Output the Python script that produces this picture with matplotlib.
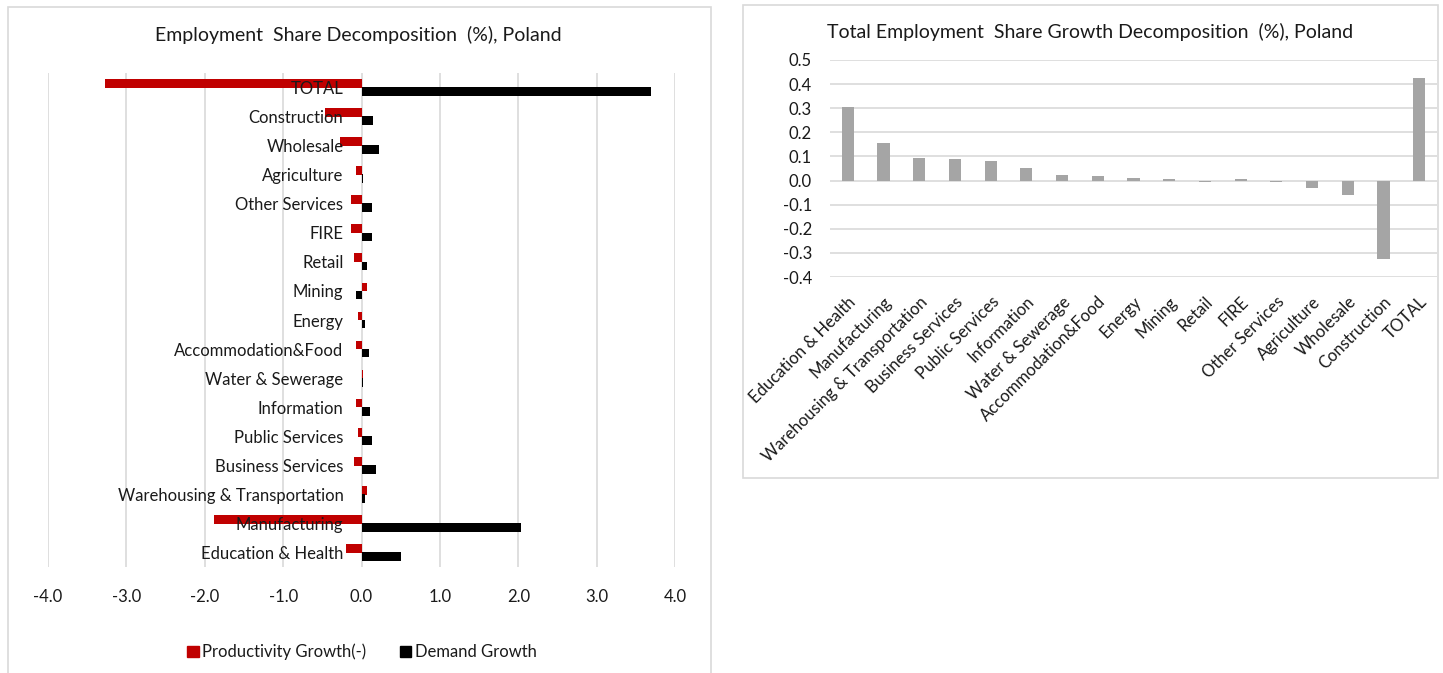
import matplotlib
matplotlib.use("Agg")
import matplotlib.pyplot as plt
import matplotlib.patches as mpatches
import numpy as np

plt.rcParams['font.family'] = ['Lato', 'DejaVu Sans']

# Sector order (bottom-to-top on the bar chart, left-to-right on the column chart)
sectors = [
    "Education & Health", "Manufacturing", "Warehousing & Transportation",
    "Business Services", "Public Services", "Information", "Water & Sewerage",
    "Accommodation&Food", "Energy", "Mining", "Retail", "FIRE",
    "Other Services", "Agriculture", "Wholesale", "Construction", "TOTAL",
]

# Employment share decomposition (%)
productivity_growth = [-0.20, -1.88, 0.07, -0.09, -0.05, -0.07, 0.02, -0.07, -0.05,
                       0.07, -0.09, -0.13, -0.13, -0.07, -0.28, -0.46, -3.27]
demand_growth = [0.50, 2.03, 0.04, 0.19, 0.13, 0.11, 0.02, 0.09, 0.045,
                 -0.07, 0.07, 0.13, 0.13, 0.025, 0.22, 0.15, 3.69]

# Total employment share growth (%)
share_growth = [0.303, 0.155, 0.094, 0.088, 0.082, 0.051, 0.025, 0.019, 0.012,
                0.008, -0.008, 0.008, -0.008, -0.029, -0.058, -0.325, 0.425]

left_ticks = [-4.0, -3.0, -2.0, -1.0, 0.0, 1.0, 2.0, 3.0, 4.0]
right_ticks = [-0.4, -0.3, -0.2, -0.1, 0.0, 0.1, 0.2, 0.3, 0.4, 0.5]

RED = "#C00000"
BLACK = "#000000"
GREY = "#A5A5A5"
GRID = "#D9D9D9"
TEXT = "#1a1a1a"
FS = 12

W, H = 1443, 673
fig = plt.figure(figsize=(W / 100, H / 100), dpi=100)


def px_box(x0, y0, x1, y1):
    # pixel box (top-left origin) -> figure fraction rect
    return [x0 / W, 1 - y1 / H, (x1 - x0) / W, (y1 - y0) / H]


# panel frames
for (x0, y0, x1, y1) in [(8, 7, 711, 680), (743, 5, 1438, 478)]:
    l, b, w, h = px_box(x0, y0, x1, y1)
    fig.patches.append(mpatches.Rectangle((l, b), w, h, transform=fig.transFigure,
                                          fill=False, edgecolor=GRID, linewidth=1.2))

# ---- left: horizontal bar chart ----
ax1 = fig.add_axes(px_box(48, 73, 675, 567))
y = np.arange(len(sectors))
bh = 0.3
ax1.barh(y + 0.14, productivity_growth, height=bh, color=RED, zorder=1,
         label="Productivity Growth(-)")
ax1.barh(y - 0.14, demand_growth, height=bh, color=BLACK, zorder=1,
         label="Demand Growth")
for t in left_ticks:
    ax1.axvline(t, color=GRID, linewidth=1.2, zorder=0)
ax1.set_xlim(-4, 4)
ax1.set_ylim(-0.5, len(sectors) - 0.5)
ax1.set_xticks(left_ticks)
ax1.set_xticklabels([f"{t:.1f}" for t in left_ticks])
ax1.set_yticks(y)
ax1.set_yticklabels(sectors)
ax1.set_axisbelow(False)
for s in ["top", "right", "bottom"]:
    ax1.spines[s].set_visible(False)
ax1.spines["left"].set_position(("data", 0))
ax1.spines["left"].set_visible(False)
ax1.tick_params(axis="y", length=0, pad=13, labelsize=FS, labelcolor=TEXT)
ax1.tick_params(axis="x", length=0, pad=16, labelsize=FS, labelcolor=TEXT)

fig.text(358 / W, 1 - 35 / H, "Employment  Share Decomposition  (%), Poland",
         ha="center", va="center", fontsize=14, color=TEXT)

handles = [mpatches.Patch(color=RED, label="Productivity Growth(-)"),
           mpatches.Patch(color=BLACK, label="Demand Growth")]
fig.legend(handles=handles, loc="center", bbox_to_anchor=(362 / W, 1 - 652 / H),
           ncol=2, frameon=False, fontsize=FS, handlelength=0.7, handleheight=0.7,
           handletextpad=0.2, columnspacing=2.0, labelcolor=TEXT)

# ---- right: column chart ----
ax2 = fig.add_axes(px_box(830, 60, 1437, 277))
x = np.arange(len(sectors))
ax2.bar(x, share_growth, width=0.34, color=GREY, zorder=2)
for t in right_ticks:
    ax2.axhline(t, color=GRID, linewidth=1.2, zorder=0)
ax2.set_xlim(-0.5, len(sectors) - 0.5)
ax2.set_ylim(-0.4, 0.5)
ax2.set_yticks(right_ticks)
ax2.set_yticklabels([f"{t:.1f}" for t in right_ticks])
ax2.set_xticks(x)
ax2.set_xticklabels(sectors, rotation=45, ha="right", va="top", rotation_mode="anchor")
for s in ax2.spines.values():
    s.set_visible(False)
ax2.tick_params(axis="y", length=0, pad=13, labelsize=FS, labelcolor=TEXT)
ax2.tick_params(axis="x", length=0, pad=12, labelsize=FS, labelcolor=TEXT)

fig.text(1090 / W, 1 - 32 / H,
         "Total Employment  Share Growth Decomposition  (%), Poland",
         ha="center", va="center", fontsize=14, color=TEXT)

fig.savefig("out.png", dpi=100)
